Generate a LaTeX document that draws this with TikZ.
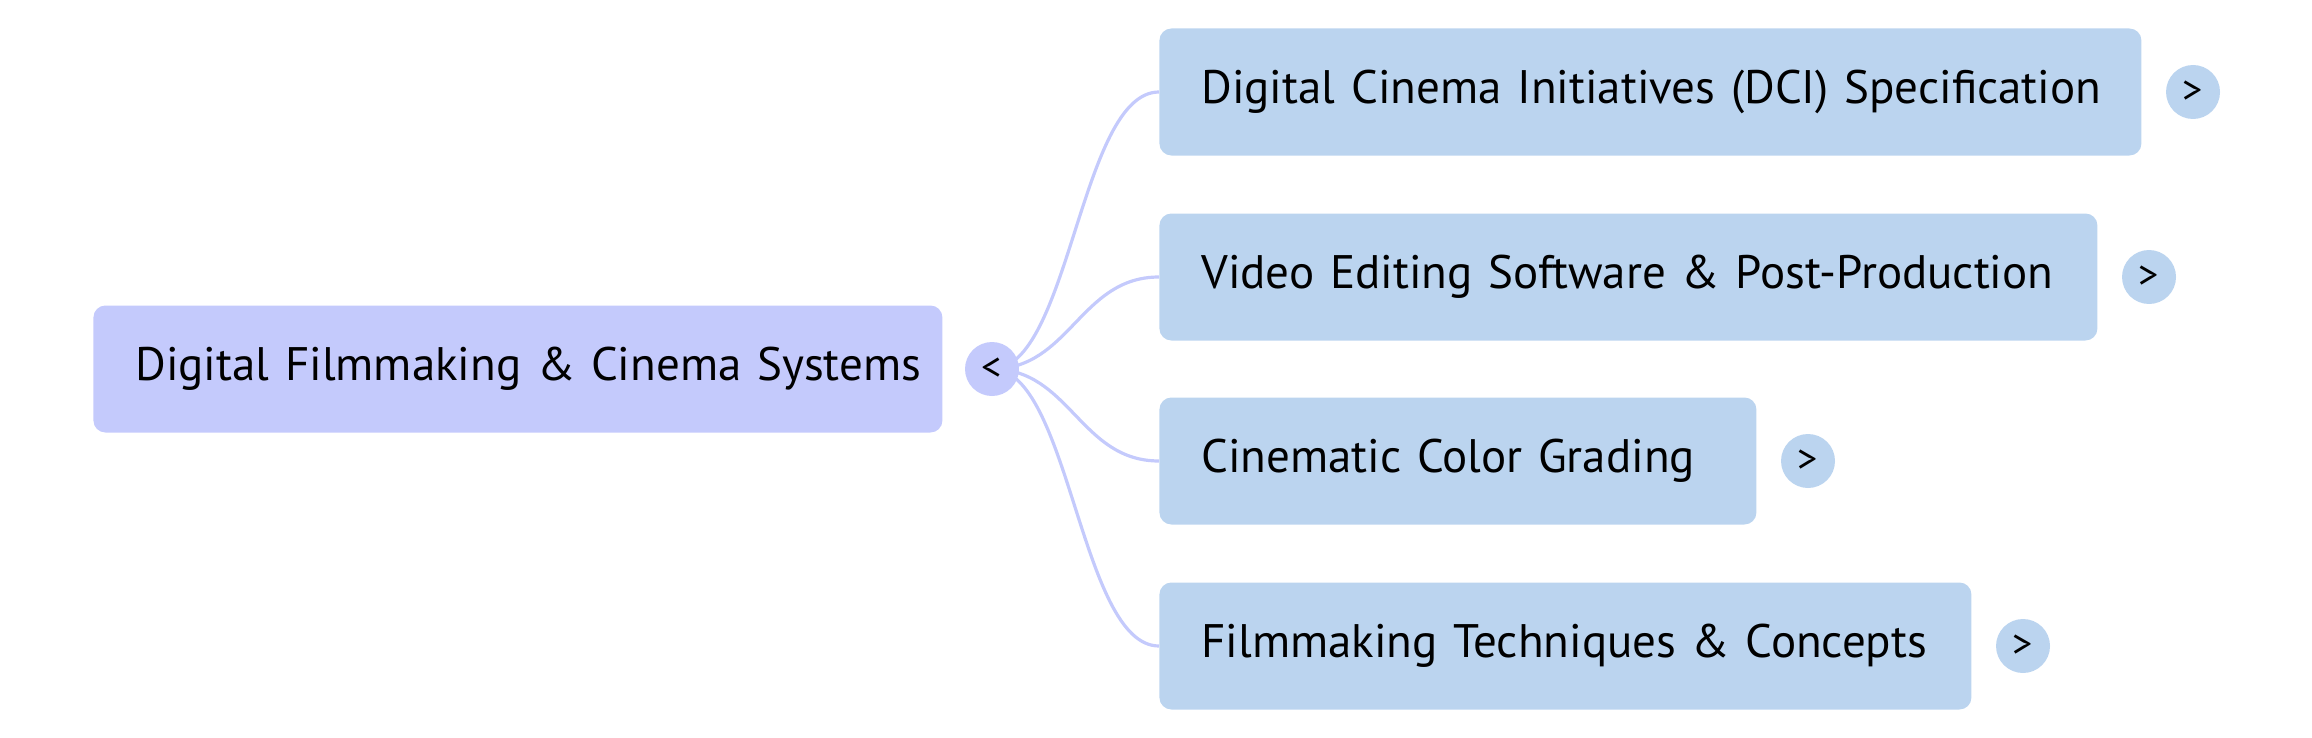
\documentclass[tikz,border=0pt]{standalone}
\usepackage{fontspec}
\setmainfont{PT Sans}
\usetikzlibrary{positioning}
\definecolor{rootfill}{HTML}{C4CAFC}
\definecolor{leaffill}{HTML}{BBD4EF}
\definecolor{branchline}{HTML}{C4CAFC}
\tikzset{
  box/.style={rounded corners=6pt,draw=none,anchor=west,minimum height=63.5pt,
    inner xsep=21pt,inner ysep=0pt,align=left,font=\fontsize{23.5}{27}\selectfont},
  rootbox/.style={box,fill=rootfill},
  leafbox/.style={box,fill=leaffill},
  togglebtn/.style={circle,draw=none,minimum size=27pt,inner sep=0pt,
    font=\fontsize{20}{22}\selectfont},
  branch/.style={draw=branchline,line width=1.6pt},
}
\begin{document}
\begin{tikzpicture}[x=0.5pt,y=-0.5pt]
\useasboundingbox (0,0) rectangle (2312,738);
%%
\node (root) at (93,369) [rootbox,text width=382.5pt] {\mbox{Digital Filmmaking \& Cinema Systems}};
  \node (node_dci) at (1159,92) [leafbox,text width=449pt] {\mbox{Digital Cinema Initiatives (DCI) Specification}};
  \node (node_edit) at (1159,277) [leafbox,text width=427pt] {\mbox{Video Editing Software \& Post-Production}};
  \node (node_color) at (1159,461) [leafbox,text width=256.5pt] {\mbox{Cinematic Color Grading}};
  \node (node_tech) at (1159,646) [leafbox,text width=364pt] {\mbox{Filmmaking Techniques \& Concepts}};
%
\coordinate (hub) at (992,369);
  \draw [branch] (hub) ..controls (1070,369) and (1080,92) .. (node_dci.west);
  \draw [branch] (hub) ..controls (1070,369) and (1080,277) .. (node_edit.west);
  \draw [branch] (hub) ..controls (1070,369) and (1080,461) .. (node_color.west);
  \draw [branch] (hub) ..controls (1070,369) and (1080,646) .. (node_tech.west);
%
\node (tog_root) at (hub) [togglebtn,fill=rootfill] {<};
  \node (tog_dci) at (2193,92) [togglebtn,fill=leaffill] {>};
  \node (tog_edit) at (2149,277) [togglebtn,fill=leaffill] {>};
  \node (tog_color) at (1808,461) [togglebtn,fill=leaffill] {>};
  \node (tog_tech) at (2023,646) [togglebtn,fill=leaffill] {>};
%
\end{tikzpicture}
\end{document}
